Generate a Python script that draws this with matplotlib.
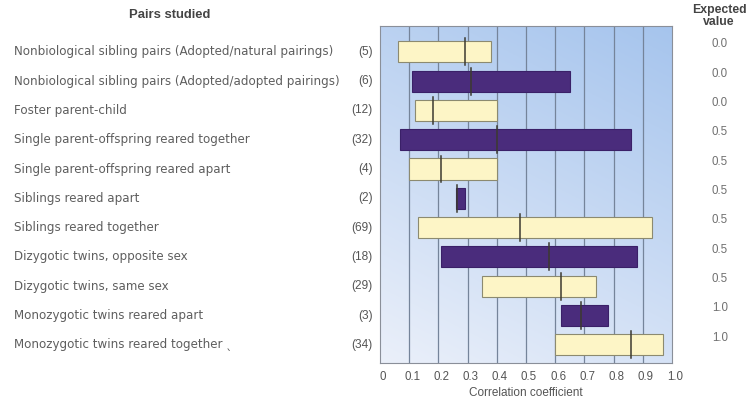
import matplotlib.pyplot as plt
import matplotlib.transforms as mtransforms
import numpy as np

# rows from top to bottom
pairs = [
    "Nonbiological sibling pairs (Adopted/natural pairings)",
    "Nonbiological sibling pairs (Adopted/adopted pairings)",
    "Foster parent-child",
    "Single parent-offspring reared together",
    "Single parent-offspring reared apart",
    "Siblings reared apart",
    "Siblings reared together",
    "Dizygotic twins, opposite sex",
    "Dizygotic twins, same sex",
    "Monozygotic twins reared apart",
    "Monozygotic twins reared together \u02ce",
]
n_studies = ["(5)", "(6)", "(12)", "(32)", "(4)", "(2)", "(69)", "(18)", "(29)", "(3)", "(34)"]
low = [0.06, 0.11, 0.12, 0.07, 0.10, 0.26, 0.13, 0.21, 0.35, 0.62, 0.60]
high = [0.38, 0.65, 0.40, 0.86, 0.40, 0.29, 0.93, 0.88, 0.74, 0.78, 0.97]
median = [0.29, 0.31, 0.18, 0.40, 0.21, 0.265, 0.48, 0.58, 0.62, 0.69, 0.86]
expected = ["0.0", "0.0", "0.0", "0.5", "0.5", "0.5", "0.5", "0.5", "0.5", "1.0", "1.0"]
ticks = [0, 0.1, 0.2, 0.3, 0.4, 0.5, 0.6, 0.7, 0.8, 0.9, 1.0]
tick_labels = ["0", "0.1", "0.2", "0.3", "0.4", "0.5", "0.6", "0.7", "0.8", "0.9", "1.0"]

plt.rcParams['font.family'] = ['Liberation Sans', 'DejaVu Sans']
label_font = ['DejaVu Sans']

W, H = 750, 405
fig = plt.figure(figsize=(7.5, 4.05), dpi=100)
ax = fig.add_axes([380 / W, 1 - 363 / H, 292 / W, (363 - 26) / H])

ylo, yhi = 10.62, -0.88
ax.set_xlim(0, 1.0)
ax.set_ylim(ylo, yhi)

# blue gradient background: darker toward the top right, pale at bottom left
gx, gy = np.meshgrid(np.linspace(0, 1, 200), np.linspace(0, 1, 200))
g = 0.35 * gx + 0.8 * gy
g = (g - g.min()) / (g.max() - g.min())
c0 = np.array([0.92, 0.94, 0.98])
c1 = np.array([0.65, 0.77, 0.93])
img = c0 + g[..., None] * (c1 - c0)
ax.imshow(img, extent=[0, 1.0, ylo, yhi], aspect='auto', zorder=0, origin='lower')

for t in ticks[1:-1]:
    ax.axvline(t, color='#75849a', lw=0.9, zorder=1)

for i in range(len(pairs)):
    if i % 2 == 0:
        fc, ec = '#fdf5c6', '#8c8a70'
    else:
        fc, ec = '#4a2c7c', '#3a2068'
    ax.barh(i, high[i] - low[i], left=low[i], height=0.72, color=fc,
            edgecolor=ec, linewidth=0.8, zorder=2)
    ax.plot([median[i], median[i]], [i - 0.46, i + 0.46], color='#3c3a30',
            lw=1.1, zorder=3)

ax.set_xticks(ticks)
ax.set_xticklabels(tick_labels, fontsize=8.3, color='#555555')
ax.tick_params(axis='x', length=0, pad=6)
shift = mtransforms.ScaledTranslation(3 / 100, 0, fig.dpi_scale_trans)
for lab in ax.get_xticklabels():
    lab.set_transform(lab.get_transform() + shift)
ax.set_yticks([])
for s in ax.spines.values():
    s.set_color('#8a8f99')
    s.set_linewidth(0.8)
ax.set_xlabel("Correlation coefficient", fontsize=8.5, color='#555555', labelpad=3)

# left labels, counts and expected values
for i in range(len(pairs)):
    ax.text(-1.253, i, pairs[i], fontsize=8.6, color='#5e5e5e', ha='left',
            va='center', family=label_font, clip_on=False)
    ax.text(-0.024, i, n_studies[i], fontsize=8.6, color='#555555', ha='right',
            va='center', clip_on=False)
    ax.text(1.164, i - 0.25, expected[i], fontsize=8.3, color='#707070',
            ha='center', va='center', clip_on=False)

fig.text(170 / W, 1 - 15 / H, "Pairs studied", fontsize=9.4, fontweight='bold',
         color='#444444', ha='center', va='center')
fig.text(719 / W, 1 - 10 / H, "Expected", fontsize=8.8, fontweight='bold',
         color='#444444', ha='center', va='center')
fig.text(719 / W, 1 - 22 / H, "value", fontsize=8.8, fontweight='bold',
         color='#444444', ha='center', va='center')

fig.savefig("out.png", dpi=100)
